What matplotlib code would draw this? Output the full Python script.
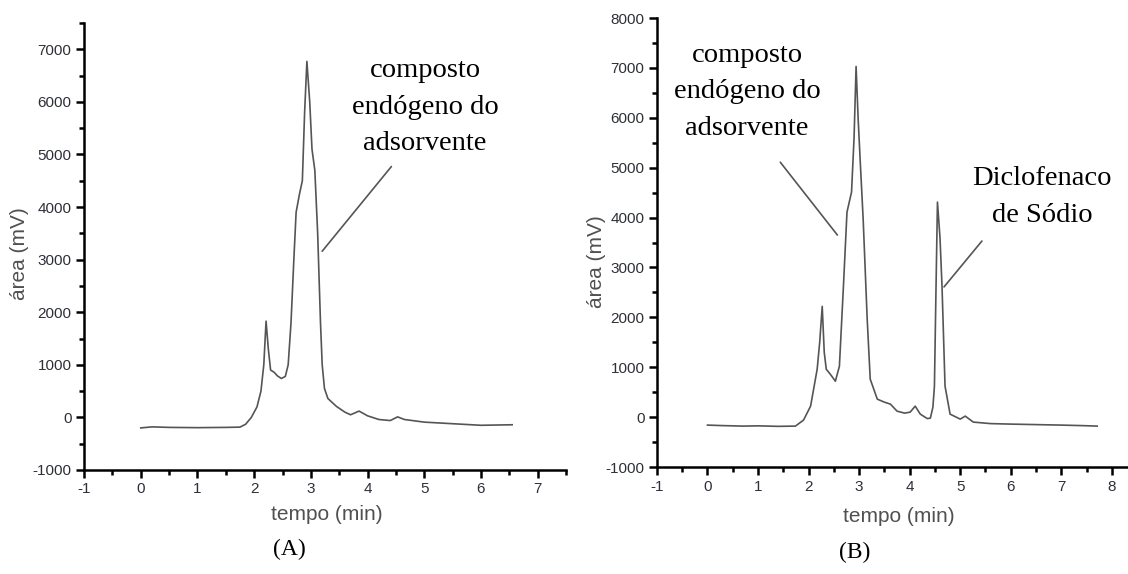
import matplotlib
matplotlib.use("Agg")
import matplotlib.pyplot as plt
from matplotlib.ticker import MultipleLocator

plt.rcParams["axes.unicode_minus"] = False

# Chromatogram A: adsorbent blank
tempo_a = [0.0, 0.2, 0.5, 1.0, 1.5, 1.75, 1.85, 1.95, 2.05, 2.12, 2.17, 2.21, 2.25,
           2.29, 2.35, 2.41, 2.48, 2.55, 2.60, 2.65, 2.70, 2.74, 2.80, 2.85, 2.89,
           2.93, 2.98, 3.02, 3.07, 3.12, 3.17, 3.20, 3.24, 3.30, 3.45, 3.60, 3.70,
           3.85, 4.00, 4.20, 4.40, 4.53, 4.65, 5.00, 5.50, 6.00, 6.55]
area_a = [-200, -180, -190, -195, -190, -185, -130, 0, 200, 500, 1000, 1830, 1300,
          900, 860, 790, 740, 780, 1000, 1800, 3000, 3900, 4250, 4500, 5800,
          6770, 6000, 5100, 4700, 3500, 1800, 1000, 550, 360, 210, 100, 50,
          120, 30, -40, -60, 10, -40, -90, -120, -150, -140]

# Chromatogram B: adsorbent with sodium diclofenac
tempo_b = [0.0, 0.3, 0.7, 1.0, 1.4, 1.74, 1.90, 2.04, 2.17, 2.22, 2.27, 2.31, 2.35,
           2.43, 2.53, 2.61, 2.69, 2.76, 2.85, 2.90, 2.94, 2.98, 3.02, 3.08, 3.16,
           3.22, 3.36, 3.50, 3.62, 3.75, 3.90, 4.01, 4.11, 4.21, 4.35, 4.41, 4.46,
           4.49, 4.52, 4.55, 4.60, 4.64, 4.70, 4.80, 5.00, 5.10, 5.26, 5.60, 6.00,
           6.50, 7.00, 7.40, 7.71]
area_b = [-160, -170, -180, -175, -185, -180, -60, 220, 960, 1500, 2220, 1300, 960,
          860, 720, 1020, 2630, 4110, 4510, 5600, 7030, 6000, 5170, 3970, 1960,
          760, 360, 300, 260, 120, 80, 100, 220, 60, -30, -20, 200,
          620, 2500, 4310, 3600, 2630, 620, 60, -40, 20, -100, -130, -140,
          -150, -160, -170, -180]

panels = [
    dict(x=tempo_a, y=area_a, rect=[0.0745, 0.1812, 0.4273, 0.7788],
         xlim=(-1, 7.5), ylim=(-1000, 7500), xticks=range(-1, 8),
         yticks=range(-1000, 7001, 1000), tag="(A)", tag_xy=(289, 549),
         xlabel_xy=(327, 514), ylabel_xy=(20, 254)),
    dict(x=tempo_b, y=area_b, rect=[0.5824, 0.1864, 0.4176, 0.7822],
         xlim=(-1, 8.32), ylim=(-1000, 8000), xticks=range(-1, 9),
         yticks=range(-1000, 8001, 1000), tag="(B)", tag_xy=(855, 552),
         xlabel_xy=(899, 516), ylabel_xy=(596, 262)),
]

W, H = 1128, 574
fig = plt.figure(figsize=(W / 100, H / 100), dpi=100)

sans = ["Liberation Sans", "DejaVu Sans"]
serif = ["Liberation Serif", "DejaVu Serif"]
tick_col = "#2e3038"
lab_col = "#505050"
line_col = "#555555"

axes = []
for p in panels:
    ax = fig.add_axes(p["rect"])
    ax.plot(p["x"], p["y"], color=line_col, lw=1.2)
    ax.set_xlim(*p["xlim"])
    ax.set_ylim(*p["ylim"])
    ax.set_xticks(list(p["xticks"]))
    ax.set_yticks(list(p["yticks"]))
    ax.xaxis.set_minor_locator(MultipleLocator(0.5))
    ax.yaxis.set_minor_locator(MultipleLocator(500))
    for s in ("top", "right"):
        ax.spines[s].set_visible(False)
    for s in ("left", "bottom"):
        ax.spines[s].set_linewidth(1.8)
    ax.tick_params(which="major", direction="out", length=6, width=1.8,
                   colors="black", labelcolor=tick_col, labelsize=11, pad=3)
    ax.tick_params(which="minor", direction="out", length=3.5, width=1.8,
                   colors="black")
    for lbl in ax.get_xticklabels() + ax.get_yticklabels():
        lbl.set_family(sans)
    ax.patch.set_alpha(0)
    fig.text(p["xlabel_xy"][0] / W, 1 - p["xlabel_xy"][1] / H, "tempo (min)",
             ha="center", va="center", fontsize=15, color=lab_col, family=sans)
    fig.text(p["ylabel_xy"][0] / W, 1 - p["ylabel_xy"][1] / H, "área (mV)",
             ha="center", va="center", rotation=90, fontsize=15, color=lab_col,
             family=sans)
    fig.text(p["tag_xy"][0] / W, 1 - p["tag_xy"][1] / H, p["tag"],
             ha="center", va="center", fontsize=17, color="black", family=serif)
    axes.append(ax)

ax_a, ax_b = axes
note = "composto\nendógeno do\nadsorvente"
text_kw = dict(ha="center", va="center", fontsize=20.5, family=serif,
               color="black", linespacing=1.6)
leader_kw = dict(arrowprops=dict(arrowstyle="-", color=line_col, lw=1.2,
                                 shrinkA=0, shrinkB=0))

# labels (centres in figure pixels) and leader lines (data coordinates)
fig.text(425 / W, 1 - 107 / H, note, **text_kw)
ax_a.annotate("", xy=(3.20, 3160), xytext=(4.42, 4770), **leader_kw)

fig.text(747 / W, 1 - 92 / H, note, **text_kw)
ax_b.annotate("", xy=(2.57, 3650), xytext=(1.44, 5110), **leader_kw)

fig.text(1042 / W, 1 - 197 / H, "Diclofenaco\nde Sódio", **text_kw)
ax_b.annotate("", xy=(4.68, 2610), xytext=(5.43, 3530), **leader_kw)

fig.savefig("out.png", dpi=100)
